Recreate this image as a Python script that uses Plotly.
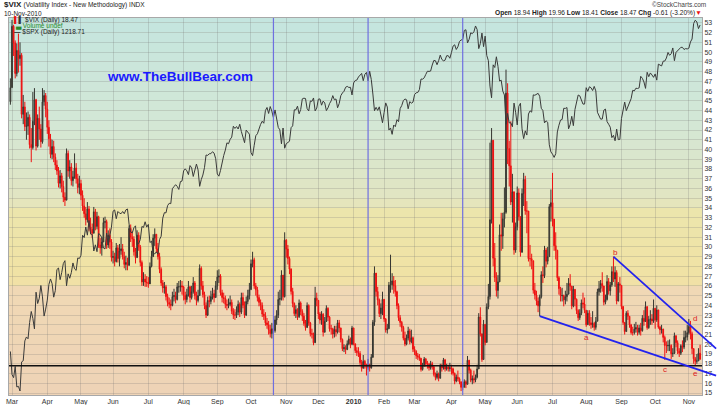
import pandas as pd
import plotly.graph_objects as go

# ---------------- data ----------------
holidays = ["2009-04-10", "2009-05-25", "2009-07-03", "2009-09-07", "2009-11-26", "2009-12-25",
            "2010-01-01", "2010-01-18", "2010-02-15", "2010-04-02", "2010-05-31", "2010-07-05",
            "2010-09-06"]
all_days = pd.bdate_range("2009-02-27", "2010-11-10")
dates = all_days[~all_days.isin(pd.to_datetime(holidays))]

vix_open_first = 44.9

vix_close = [
    46.35,
    52.65, 50.93, 47.80, 50.17, 49.33, 49.68, 43.61, 44.37, 42.36, 42.40, 43.30, 40.50, 40.20, 42.90, 45.10, 40.35, 43.20, 42.10, 40.80, 44.90, 45.54, 44.14,
    42.28, 41.10, 39.50, 40.30, 39.20, 38.40, 37.80, 36.53, 37.30, 36.20, 35.10, 34.80, 39.60, 37.80, 38.20, 36.80, 37.20, 38.10, 37.00, 36.10, 36.50,
    35.30, 34.20, 33.40, 32.80, 33.90, 32.05, 31.80, 31.40, 33.60, 32.10, 33.10, 30.20, 29.90, 30.50, 32.50, 32.60, 30.20, 31.20, 30.50, 28.92,
    29.00, 28.50, 29.90, 28.80, 29.60, 29.80, 29.00, 28.20, 28.40, 28.10, 31.90, 31.00, 30.80, 29.50, 28.90, 31.20, 30.00, 28.40, 26.40, 26.70, 26.40, 26.35,
    26.20, 28.00, 29.00, 30.90, 31.30, 29.80, 29.00, 27.70, 26.30, 25.80, 25.90, 24.90, 24.30, 24.10, 24.00, 24.90, 25.00, 24.60, 25.90, 25.90, 26.00, 25.90,
    25.00, 24.60, 25.10, 25.90, 24.80, 25.40, 26.30, 25.00, 24.50, 25.00, 27.80, 26.00, 25.10, 24.00, 23.00, 24.50, 24.40, 24.90, 25.20, 24.80, 26.00,
    26.90, 27.00, 25.30, 24.80, 24.70, 24.10, 24.00, 24.10, 24.30, 23.40, 23.00, 23.00, 23.30, 24.10, 23.30, 24.80, 24.00, 23.00, 24.40, 25.00, 25.61,
    28.27, 28.68, 26.00, 25.60, 24.80, 24.30, 24.00, 23.10, 22.90, 22.20, 22.00, 21.50, 21.10, 21.60, 21.40, 22.50, 23.00, 24.60, 24.70, 27.10, 24.90, 30.69,
    29.78, 28.81, 27.72, 25.43, 24.19, 23.15, 23.56, 22.84, 24.24, 23.36, 22.89, 22.14, 21.72, 23.99, 22.19, 21.10, 21.04, 20.16, 24.74, 24.51,
    23.11, 22.49, 23.08, 21.25, 22.35, 23.69, 22.79, 21.59, 21.59, 21.05, 21.51, 21.26, 22.20, 21.68, 20.49, 19.54, 19.66, 19.47, 20.05, 20.54, 20.01, 21.68,
    20.04, 19.35, 19.16, 19.06, 18.13, 17.55, 18.25, 17.85, 17.63, 17.91, 17.58, 18.68, 22.27, 27.31, 25.41, 24.55, 23.14, 23.73, 24.62,
    22.59, 21.48, 21.60, 26.08, 26.11, 26.51, 26.00, 25.40, 23.96, 22.73, 22.25, 21.72, 20.63, 20.02, 20.64, 21.37, 20.27, 20.67, 19.50,
    19.26, 18.83, 18.72, 18.56, 17.42, 17.79, 18.49, 17.99, 17.95, 17.58, 18.00, 17.69, 16.91, 16.60, 16.97, 16.51, 17.77, 17.59, 18.40, 17.47, 17.66, 17.51, 17.59,
    17.47, 17.02, 16.23, 16.62, 16.46, 16.14, 15.58, 15.59, 16.16, 15.89, 18.36, 17.34, 16.32, 16.47, 16.34, 16.62, 17.47, 22.81, 21.08, 18.44, 22.05,
    20.19, 23.84, 24.91, 32.80, 40.95, 28.84, 26.86, 25.52, 26.41, 31.24, 31.11, 32.89, 33.55, 45.79, 40.10, 38.32, 34.61, 35.66, 29.68, 32.07,
    35.54, 33.10, 29.46, 35.48, 36.93, 33.70, 33.68, 28.79, 28.79, 28.58, 25.56, 25.05, 24.44, 23.95, 24.88, 27.14, 27.05, 29.68, 28.53, 29.00, 34.13, 34.54,
    32.86, 30.12, 29.65, 26.84, 25.71, 24.98, 25.01, 24.56, 24.89, 25.14, 26.25, 25.97, 23.93, 25.64, 24.63, 23.47, 22.73, 23.19, 24.25, 24.13, 23.50,
    22.01, 23.19, 22.21, 22.01, 22.14, 21.74, 22.37, 25.39, 25.73, 26.24, 25.99, 24.33, 24.59, 26.44, 25.49, 26.10, 27.46, 26.70, 27.37, 24.45, 26.21, 26.05,
    23.89, 22.25, 21.31, 23.19, 22.88, 21.99, 21.21, 21.21, 21.56, 21.72, 21.23, 21.67, 21.40, 22.67, 22.34, 23.87, 21.71, 22.54, 22.61, 22.40, 23.70,
    22.50, 23.53, 21.76, 21.49, 21.56, 20.71, 19.88, 19.85, 19.88, 19.88, 19.03, 19.08, 20.88, 20.17, 19.32, 19.08, 19.85, 19.71, 20.71, 20.75, 21.20,
    21.83, 21.08, 19.56, 18.52, 18.26, 18.29, 19.08, 18.47,
]

vix_high = [
    47.3,
    53.3, 52.8, 51.2, 50.9, 51.9, 51.0, 49.9, 45.6, 44.9, 43.8, 43.9, 43.6, 42.2, 45.9, 46.3, 45.2, 43.6, 44.4, 42.6, 46.3, 46.1, 45.8,
    44.9, 43.0, 41.6, 41.0, 40.9, 39.6, 38.9, 38.2, 37.9, 37.6, 36.8, 35.6, 40.1, 39.9, 38.9, 38.6, 37.8, 39.6, 38.6, 37.5, 37.3,
    36.9, 35.8, 35.0, 34.1, 34.6, 34.2, 33.0, 32.4, 34.1, 33.9, 33.6, 33.2, 30.9, 31.0, 33.0, 33.1, 32.8, 31.7, 31.9, 30.8,
    29.6, 29.4, 30.4, 30.2, 30.3, 31.0, 30.3, 29.5, 29.1, 28.9, 32.2, 32.3, 31.6, 31.1, 29.9, 31.7, 31.5, 30.2, 28.6, 27.4, 27.2, 27.0,
    26.9, 28.4, 29.6, 31.3, 31.9, 31.2, 30.4, 29.4, 27.9, 26.6, 26.4, 26.1, 25.2, 24.8, 24.6, 25.4, 25.7, 25.4, 26.3, 26.5, 26.6, 26.5,
    26.0, 25.4, 25.7, 26.5, 26.0, 26.0, 26.9, 26.5, 25.4, 25.6, 28.2, 28.0, 26.5, 25.4, 24.3, 24.9, 25.0, 25.5, 25.8, 25.6, 26.5,
    27.6, 27.7, 27.2, 25.6, 25.3, 25.0, 24.6, 24.7, 25.0, 24.6, 23.7, 23.6, 23.9, 24.5, 24.3, 25.3, 25.3, 24.4, 24.9, 25.6, 26.3,
    28.7, 29.5, 28.9, 26.3, 25.9, 25.1, 24.6, 24.3, 23.6, 23.3, 22.7, 22.4, 22.0, 22.2, 22.0, 22.9, 23.5, 25.4, 25.6, 27.6, 27.0, 31.5,
    30.8, 30.2, 29.0, 27.8, 25.8, 24.3, 24.0, 23.7, 24.6, 24.4, 23.6, 23.2, 22.5, 24.3, 24.1, 22.3, 21.6, 21.2, 25.9, 25.3,
    24.4, 23.3, 23.4, 23.2, 22.8, 24.0, 23.8, 22.9, 22.0, 21.7, 21.9, 21.9, 22.5, 22.5, 21.7, 20.6, 20.0, 19.9, 20.4, 20.9, 20.7, 21.9,
    21.7, 20.1, 19.7, 19.7, 19.3, 18.4, 18.9, 18.4, 18.0, 18.5, 18.0, 19.0, 22.5, 28.0, 27.2, 25.9, 24.7, 24.2, 25.4,
    24.5, 22.7, 22.1, 26.4, 29.2, 27.3, 27.0, 26.6, 25.5, 24.2, 23.0, 22.4, 21.9, 21.3, 21.0, 21.8, 21.6, 21.5, 20.8,
    19.8, 19.4, 19.1, 19.0, 18.6, 18.1, 18.7, 18.6, 18.3, 18.1, 18.3, 18.2, 17.8, 17.1, 17.3, 17.1, 18.0, 18.0, 18.6, 18.5, 18.0, 17.9, 18.1,
    17.9, 17.6, 17.1, 16.9, 17.3, 16.6, 16.2, 16.0, 16.4, 16.3, 18.8, 18.4, 17.5, 16.8, 17.3, 16.9, 17.9, 23.2, 23.8, 20.6, 22.5,
    21.8, 24.2, 26.2, 40.7, 42.2, 34.0, 30.4, 27.4, 27.1, 32.3, 33.5, 33.5, 36.1, 48.2, 46.8, 40.9, 42.9, 37.5, 35.2, 32.5,
    36.2, 36.0, 32.4, 36.0, 37.6, 37.3, 34.7, 32.4, 30.2, 29.3, 28.5, 26.3, 25.5, 24.8, 25.1, 27.5, 28.0, 30.1, 29.9, 30.0, 34.4, 35.9,
    37.6, 32.4, 31.5, 29.7, 27.0, 25.9, 25.8, 25.1, 25.5, 26.3, 26.8, 27.2, 26.0, 26.0, 25.6, 24.7, 23.6, 23.6, 24.6, 25.3, 24.8,
    23.2, 23.5, 23.5, 22.8, 23.4, 22.3, 22.8, 25.7, 26.5, 26.6, 27.4, 25.8, 25.1, 27.1, 26.8, 26.4, 28.0, 29.0, 28.0, 27.6, 26.4, 26.9,
    25.5, 23.9, 22.1, 23.4, 23.5, 22.8, 22.1, 21.8, 22.1, 22.3, 22.0, 22.0, 22.2, 23.0, 23.5, 24.4, 23.5, 22.9, 23.5, 23.1, 24.6,
    23.6, 24.0, 23.0, 21.9, 22.0, 21.6, 20.9, 20.3, 20.4, 20.5, 20.0, 19.6, 21.2, 20.9, 20.4, 19.6, 20.0, 20.4, 21.4, 21.4, 22.0,
    22.6, 22.4, 21.3, 19.4, 18.7, 19.0, 19.6, 19.96,
]

vix_low = [
    44.6,
    46.9, 49.6, 47.3, 47.5, 47.9, 48.6, 43.2, 42.6, 41.9, 41.0, 41.5, 40.1, 38.7, 40.0, 42.5, 39.9, 40.2, 41.0, 40.2, 40.6, 44.5, 43.3,
    41.6, 40.3, 39.1, 39.0, 38.7, 37.9, 37.4, 36.1, 36.0, 35.6, 34.6, 34.2, 34.9, 37.2, 37.0, 36.3, 36.2, 37.0, 36.5, 35.5, 35.4,
    34.8, 33.7, 33.0, 32.2, 32.5, 31.6, 31.3, 30.9, 31.4, 31.7, 31.8, 29.9, 29.3, 29.1, 30.7, 31.9, 29.8, 29.9, 29.8, 28.5,
    28.3, 28.0, 28.4, 28.4, 28.0, 29.2, 28.7, 27.8, 27.6, 27.6, 28.4, 30.5, 30.0, 29.1, 28.3, 29.1, 29.6, 28.0, 26.0, 26.0, 25.9, 25.9,
    25.8, 26.4, 27.9, 29.0, 30.1, 29.4, 28.7, 27.3, 26.0, 25.3, 25.2, 24.5, 23.9, 23.7, 23.5, 23.9, 24.4, 24.2, 24.5, 25.3, 25.4, 25.1,
    24.5, 24.1, 24.3, 24.9, 24.3, 24.6, 25.2, 24.6, 24.0, 24.3, 25.5, 25.6, 24.8, 23.6, 22.7, 22.9, 23.8, 24.1, 24.6, 24.3, 24.8,
    25.6, 26.3, 25.0, 24.3, 24.2, 23.7, 23.5, 23.7, 23.9, 23.1, 22.6, 22.5, 22.7, 23.0, 22.8, 23.1, 23.7, 22.7, 22.9, 24.1, 24.6,
    25.7, 27.9, 25.7, 25.0, 24.4, 23.9, 23.5, 22.8, 22.5, 21.9, 21.6, 21.0, 20.7, 20.6, 20.5, 21.2, 22.0, 22.7, 24.0, 24.5, 24.5, 24.8,
    28.9, 28.2, 27.2, 25.1, 23.8, 22.9, 22.7, 22.5, 22.7, 23.0, 22.4, 21.9, 21.4, 21.8, 21.9, 20.8, 20.6, 19.9, 20.9, 23.9,
    22.6, 22.1, 22.0, 20.8, 21.2, 22.3, 22.4, 21.3, 21.0, 20.6, 20.7, 20.8, 21.1, 21.2, 20.2, 19.3, 19.2, 19.0, 19.4, 19.9, 19.6, 19.9,
    19.9, 19.1, 18.8, 18.7, 17.9, 17.2, 17.5, 17.5, 16.8, 17.4, 17.2, 17.5, 18.6, 21.9, 24.9, 24.0, 22.8, 22.6, 23.0,
    22.3, 21.2, 21.1, 21.8, 25.3, 25.6, 25.2, 24.9, 23.6, 22.4, 21.8, 21.3, 20.4, 19.8, 19.9, 20.4, 20.0, 20.1, 19.2,
    18.9, 18.5, 18.4, 18.3, 17.2, 17.3, 17.7, 17.7, 17.5, 17.3, 17.4, 17.4, 16.7, 16.3, 16.4, 16.2, 16.5, 17.2, 17.4, 17.2, 17.3, 17.2, 17.2,
    16.9, 16.8, 15.9, 16.1, 16.2, 15.9, 15.2, 15.3, 15.6, 15.5, 16.0, 17.0, 16.1, 15.9, 16.0, 16.1, 16.5, 17.6, 20.8, 18.2, 18.6,
    19.9, 20.5, 23.6, 24.6, 32.4, 28.0, 26.4, 24.9, 24.7, 26.8, 29.6, 29.8, 32.0, 33.4, 38.5, 36.2, 34.3, 32.5, 29.2, 29.4,
    31.7, 32.7, 29.0, 29.4, 34.2, 33.3, 31.4, 28.5, 28.0, 27.7, 25.2, 24.6, 24.0, 23.3, 22.9, 24.7, 26.3, 26.8, 27.9, 28.2, 29.4, 32.6,
    32.1, 29.6, 28.7, 26.5, 25.1, 24.4, 24.4, 23.9, 24.1, 24.4, 25.2, 25.5, 23.6, 23.8, 23.9, 23.1, 22.4, 22.5, 23.0, 23.7, 23.2,
    21.8, 22.0, 21.9, 21.6, 21.7, 21.4, 21.5, 22.5, 25.0, 25.3, 25.4, 24.0, 24.1, 24.5, 25.1, 25.0, 25.9, 26.4, 25.9, 24.1, 24.4, 25.3,
    23.6, 22.0, 21.0, 21.4, 22.5, 21.7, 21.0, 20.9, 21.0, 21.2, 20.9, 21.0, 20.9, 21.3, 21.9, 22.5, 21.5, 21.6, 22.0, 22.0, 22.2,
    21.6, 22.3, 21.6, 21.0, 21.1, 20.2, 18.4, 19.1, 19.3, 19.3, 18.5, 18.7, 19.0, 19.7, 19.0, 18.7, 18.9, 19.2, 19.5, 20.2, 20.4,
    21.0, 20.5, 19.0, 18.0, 17.8, 18.0, 18.3, 18.41,
]

spx_close = [
    735.09,
    700.82, 696.33, 712.87, 682.55, 683.38, 676.53, 719.60, 721.36, 750.74, 756.55, 753.89, 778.12, 794.35, 784.04, 768.54, 822.92, 806.12, 813.88, 832.86, 815.94, 787.53, 797.87,
    811.08, 834.38, 842.50, 835.48, 815.55, 825.16, 856.56, 858.73, 841.50, 852.06, 865.30, 869.60, 832.39, 850.08, 843.55, 851.92, 866.23, 857.51, 855.16, 873.64, 872.81,
    877.52, 907.24, 903.80, 919.53, 907.39, 929.23, 909.24, 908.35, 883.92, 893.07, 882.88, 909.71, 908.13, 903.47, 888.33, 887.00, 910.33, 893.06, 906.83, 919.14,
    942.87, 944.74, 931.76, 942.46, 940.09, 939.14, 942.43, 939.15, 944.89, 946.21, 923.72, 911.97, 910.71, 918.37, 921.23, 893.04, 895.10, 900.94, 920.26, 918.90, 927.23, 919.32,
    923.33, 896.42, 898.72, 881.03, 879.56, 882.68, 879.13, 901.05, 905.84, 932.68, 940.74, 940.38, 951.13, 954.58, 954.07, 976.29, 979.26, 982.18, 979.62, 975.15, 986.75, 987.48,
    1002.63, 1005.65, 1002.72, 997.08, 1010.48, 1007.10, 994.35, 1005.81, 1012.73, 1004.09, 979.73, 989.67, 996.46, 1007.37, 1026.13, 1025.57, 1028.00, 1028.12, 1030.98, 1028.93, 1020.62,
    998.04, 994.75, 1003.24, 1016.40, 1025.39, 1033.37, 1044.14, 1042.73, 1049.34, 1052.63, 1068.76, 1065.49, 1068.30, 1064.66, 1071.66, 1060.87, 1050.78, 1044.38, 1062.98, 1060.61, 1057.08,
    1029.85, 1025.21, 1040.46, 1054.72, 1057.58, 1065.48, 1071.49, 1076.19, 1073.19, 1092.02, 1096.56, 1087.68, 1097.91, 1091.06, 1081.40, 1092.91, 1079.60, 1066.95, 1063.41, 1042.63, 1066.11, 1036.19,
    1042.88, 1045.41, 1046.50, 1066.63, 1069.30, 1093.08, 1093.01, 1098.51, 1087.24, 1093.48, 1109.30, 1110.32, 1109.80, 1094.90, 1091.38, 1106.24, 1105.65, 1110.63, 1091.49, 1095.63,
    1108.86, 1109.24, 1099.92, 1105.98, 1103.25, 1091.94, 1095.95, 1102.35, 1106.41, 1114.11, 1107.93, 1109.18, 1096.08, 1102.47, 1114.05, 1118.02, 1120.59, 1126.48, 1127.78, 1126.20, 1126.42, 1115.10,
    1132.99, 1136.52, 1137.14, 1141.69, 1144.98, 1146.98, 1136.22, 1145.68, 1148.46, 1136.03, 1150.23, 1138.04, 1116.48, 1091.76, 1096.78, 1092.17, 1097.50, 1084.53, 1073.87,
    1089.19, 1103.32, 1097.28, 1063.11, 1066.19, 1056.74, 1070.52, 1068.13, 1078.47, 1075.51, 1094.87, 1099.51, 1106.75, 1109.17, 1108.01, 1094.60, 1105.24, 1102.94, 1104.49,
    1115.71, 1118.31, 1118.79, 1122.97, 1138.70, 1138.50, 1140.45, 1145.61, 1150.24, 1149.99, 1150.51, 1159.46, 1166.21, 1165.83, 1159.90, 1165.81, 1174.17, 1167.72, 1165.73, 1166.59, 1173.22, 1173.27, 1169.43,
    1178.10, 1187.44, 1189.44, 1182.45, 1186.44, 1194.37, 1196.48, 1197.30, 1210.65, 1211.67, 1192.13, 1197.52, 1207.17, 1205.94, 1208.67, 1217.28, 1212.05, 1183.71, 1191.36, 1206.78, 1186.69,
    1202.26, 1173.60, 1165.90, 1128.15, 1110.88, 1159.73, 1155.79, 1171.67, 1157.44, 1135.68, 1136.94, 1120.80, 1115.05, 1071.59, 1087.69, 1073.65, 1074.03, 1067.95, 1103.06, 1089.41,
    1070.71, 1098.38, 1102.83, 1064.88, 1050.47, 1062.00, 1055.69, 1086.84, 1091.60, 1089.63, 1115.23, 1114.61, 1116.04, 1117.51, 1113.20, 1095.31, 1092.04, 1073.69, 1076.76, 1074.57, 1041.24, 1030.71,
    1027.37, 1022.58, 1028.06, 1060.27, 1070.25, 1077.96, 1078.75, 1095.34, 1095.17, 1096.48, 1064.88, 1071.25, 1083.48, 1069.59, 1093.67, 1102.66, 1115.01, 1113.84, 1106.13, 1101.53, 1101.60,
    1125.86, 1120.46, 1127.24, 1125.81, 1121.64, 1127.79, 1121.06, 1089.47, 1083.61, 1079.25, 1079.38, 1092.54, 1094.16, 1075.63, 1071.69, 1067.36, 1051.87, 1055.33, 1047.22, 1064.59, 1048.92, 1049.33,
    1080.29, 1090.10, 1104.51, 1091.84, 1098.87, 1104.18, 1109.55, 1121.90, 1121.10, 1125.07, 1124.66, 1125.59, 1142.71, 1139.78, 1134.28, 1124.83, 1148.67, 1142.16, 1147.70, 1144.73, 1141.20,
    1146.24, 1137.03, 1160.75, 1159.97, 1158.06, 1165.15, 1165.32, 1169.77, 1178.10, 1173.81, 1176.19, 1184.71, 1165.90, 1178.17, 1180.26, 1183.08, 1185.62, 1185.64, 1182.45, 1183.78, 1183.26,
    1184.38, 1193.57, 1197.96, 1221.06, 1225.85, 1223.25, 1213.40, 1218.71,
]

event_dates = ["2009-10-21", "2010-01-15", "2010-04-13"]
support_level = 17.8
trend_lower = [("2010-06-21", 22.9), ("2010-11-05", 17.5)]
trend_upper = [("2010-08-25", 29.0), ("2010-11-01", 22.06)]
wave_labels = [("a", "2010-08-02", 20.75), ("b", "2010-08-26", 29.45), ("c", "2010-10-11", 17.45),
               ("d", "2010-11-05", 22.6), ("e", "2010-11-05", 17.05)]

# ---------------- preparation ----------------
n = min(len(dates), len(vix_close), len(vix_high), len(vix_low), len(spx_close))
dates = dates[:n]
xi = list(range(n))
vix_open = [vix_open_first] + vix_close[:n - 1]
hi = [max(vix_high[i], vix_open[i], vix_close[i]) for i in range(n)]
lo = [min(vix_low[i], vix_open[i], vix_close[i]) for i in range(n)]


def pos(d):
    return int(dates.get_loc(pd.Timestamp(d)))


W, H = 721, 405
ML, MR, MT, MB = 9, 19, 18, 10
PW, PH = W - ML - MR, H - MT - MB
X0, X1 = -0.87, 431.2
Y0, Y1 = 14.795, 53.5
S0, S1 = 670.6, 1229.1


def fx(px):
    return (px - ML) / PW


def fy(py):
    return (MT + PH - py) / PH


def dx(i):
    return (i - X0) / (X1 - X0)


def dy(v):
    return (v - Y0) / (Y1 - Y0)


tick_idx, tick_txt = [], []
for i in range(1, n):
    if dates[i].month != dates[i - 1].month:
        tick_idx.append(i)
        tick_txt.append("<b>2010</b>" if dates[i].month == 1 else dates[i].strftime("%b"))

# ---------------- figure ----------------
fig = go.Figure()
fig.add_trace(go.Candlestick(
    x=xi, open=vix_open, high=hi, low=lo, close=vix_close[:n],
    increasing=dict(line=dict(color="#353530", width=1), fillcolor="#77776a"),
    decreasing=dict(line=dict(color="#ee1111", width=1), fillcolor="#ee1111"),
    whiskerwidth=0, hoverinfo="skip", showlegend=False, yaxis="y"))
fig.add_trace(go.Scatter(
    x=xi, y=spx_close[:n], mode="lines", line=dict(color="#3a3a3a", width=1),
    hoverinfo="skip", showlegend=False, yaxis="y2"))

shapes = []
# background gradient bands
stops = [(18, (196, 229, 223)), (120, (211, 231, 214)), (200, (226, 229, 193)), (212, (236, 229, 172)),
         (280, (241, 226, 164)), (290, (240, 216, 181)), (395, (238, 211, 182))]


def color_at(p):
    if p <= stops[0][0]:
        c = stops[0][1]
    elif p >= stops[-1][0]:
        c = stops[-1][1]
    else:
        for (p0, c0), (p1, c1) in zip(stops[:-1], stops[1:]):
            if p0 <= p <= p1:
                t = (p - p0) / (p1 - p0)
                c = tuple(round(a + (b - a) * t) for a, b in zip(c0, c1))
                break
    return "rgb(%d,%d,%d)" % c


for v in range(14, 54):
    a, b = max(v, Y0), min(v + 1, Y1)
    if b <= a:
        continue
    pc = MT + PH * (Y1 - (a + b) / 2) / (Y1 - Y0)
    shapes.append(dict(type="rect", xref="paper", yref="y", x0=0, x1=1, y0=a, y1=min(b + 0.03, Y1),
                       fillcolor=color_at(pc), line=dict(width=0), layer="below"))

for d in event_dates:
    shapes.append(dict(type="line", xref="x", yref="paper", x0=pos(d), x1=pos(d), y0=0, y1=1,
                       line=dict(color="#6f6fe0", width=1.2), layer="above"))

shapes.append(dict(type="line", xref="paper", yref="y", x0=0, x1=1, y0=support_level, y1=support_level,
                   line=dict(color="#111111", width=1.6), layer="above"))

x_end = 440.0
for (d0, v0), (d1, v1) in (trend_lower, trend_upper):
    i0, i1 = pos(d0), pos(d1)
    slope = (v1 - v0) / (i1 - i0)
    ve = v0 + slope * (x_end - i0)
    shapes.append(dict(type="line", xref="paper", yref="paper", x0=dx(i0), y0=dy(v0), x1=dx(x_end), y1=dy(ve),
                       line=dict(color="#2323ee", width=1.8), layer="above"))

FONT = "Liberation Sans, Arial, sans-serif"
ann = []
for t, d, v in wave_labels:
    ann.append(dict(x=pos(d), y=v, xref="x", yref="y", text=t, showarrow=False,
                    xanchor="center", yanchor="middle",
                    font=dict(family=FONT, size=8, color="#dd2222")))

ann.append(dict(x=fx(180), y=fy(76), xref="paper", yref="paper", text="<b>www.TheBullBear.com</b>",
                xanchor="center", yanchor="middle",
                showarrow=False, font=dict(family=FONT, size=13.5, color="#1a1aff")))

ann.append(dict(x=fx(2), y=fy(5), xref="paper", yref="paper", xanchor="left", yanchor="middle",
                text="<b>$VIX</b> <span style='font-size:6.5px'>(Volatility Index - New Methodology) INDX</span>",
                showarrow=False, font=dict(family=FONT, size=8, color="#222222")))
ann.append(dict(x=fx(2), y=fy(13.5), xref="paper", yref="paper", xanchor="left", yanchor="middle",
                text="10-Nov-2010", showarrow=False, font=dict(family=FONT, size=6.5, color="#222222")))
ann.append(dict(x=fx(708), y=fy(5), xref="paper", yref="paper", xanchor="right", yanchor="middle",
                text="\u00a9StockCharts.com", showarrow=False, font=dict(family=FONT, size=6.5, color="#444444")))
ann.append(dict(x=fx(704), y=fy(13.5), xref="paper", yref="paper", xanchor="right", yanchor="middle",
                text="<b>Open</b> 18.94 <b>High</b> 19.96 <b>Low</b> 18.41 <b>Close</b> 18.47 "
                     "<b>Chg</b> -0.61 (-3.20%)<span style='color:#ee1111'>\u25bc</span>",
                showarrow=False, font=dict(family=FONT, size=6.6, color="#222222")))

ann.append(dict(x=fx(12), y=fy(20.5), xref="paper", yref="paper", xanchor="left", yanchor="middle",
                text="<span style='color:#ee1111'>\u258c</span><span style='color:#333'>\u258c</span> $VIX (Daily) 18.47",
                showarrow=False, font=dict(family=FONT, size=6.5, color="#222222")))
ann.append(dict(x=fx(13), y=fy(26), xref="paper", yref="paper", xanchor="left", yanchor="middle",
                text="\u2583 Volume undef", showarrow=False, font=dict(family=FONT, size=6.5, color="#2a8a2a")))
ann.append(dict(x=fx(12), y=fy(31.5), xref="paper", yref="paper", xanchor="left", yanchor="middle",
                text="<b>\u2014</b> $SPX (Daily) 1218.71", showarrow=False,
                font=dict(family=FONT, size=6.5, color="#222222")))

GRID = "rgba(110,110,110,0.22)"
fig.update_layout(
    width=W, height=H, margin=dict(l=ML, r=MR, t=MT, b=MB, autoexpand=False),
    paper_bgcolor="white", plot_bgcolor="#e8e2c4",
    font=dict(family=FONT, size=7, color="#333333"),
    showlegend=False, shapes=shapes, annotations=ann,
    xaxis=dict(range=[X0, X1], tickmode="array", tickvals=tick_idx, ticktext=tick_txt,
               showgrid=True, gridcolor=GRID, gridwidth=1, zeroline=False, ticks="",
               tickfont=dict(size=7, color="#333333"), showline=True, linecolor="#a8a8a8",
               mirror=True, rangeslider=dict(visible=False), automargin=False, fixedrange=True),
    yaxis=dict(range=[Y0, Y1], side="right", tickmode="array", tickvals=list(range(15, 54)),
               ticktext=[str(v) for v in range(15, 54)], showgrid=True, gridcolor=GRID, gridwidth=1,
               zeroline=False, ticks="", tickfont=dict(size=7, color="#333333"), showline=True,
               linecolor="#a8a8a8", mirror=True, automargin=False, fixedrange=True),
    yaxis2=dict(range=[S0, S1], overlaying="y", visible=False, fixedrange=True),
)

fig.write_html(
    "out.html",
    config={"displayModeBar": False},
    post_script="document.body.style.margin='0';document.body.style.padding='0';"
                "document.body.style.overflow='hidden';",
)
